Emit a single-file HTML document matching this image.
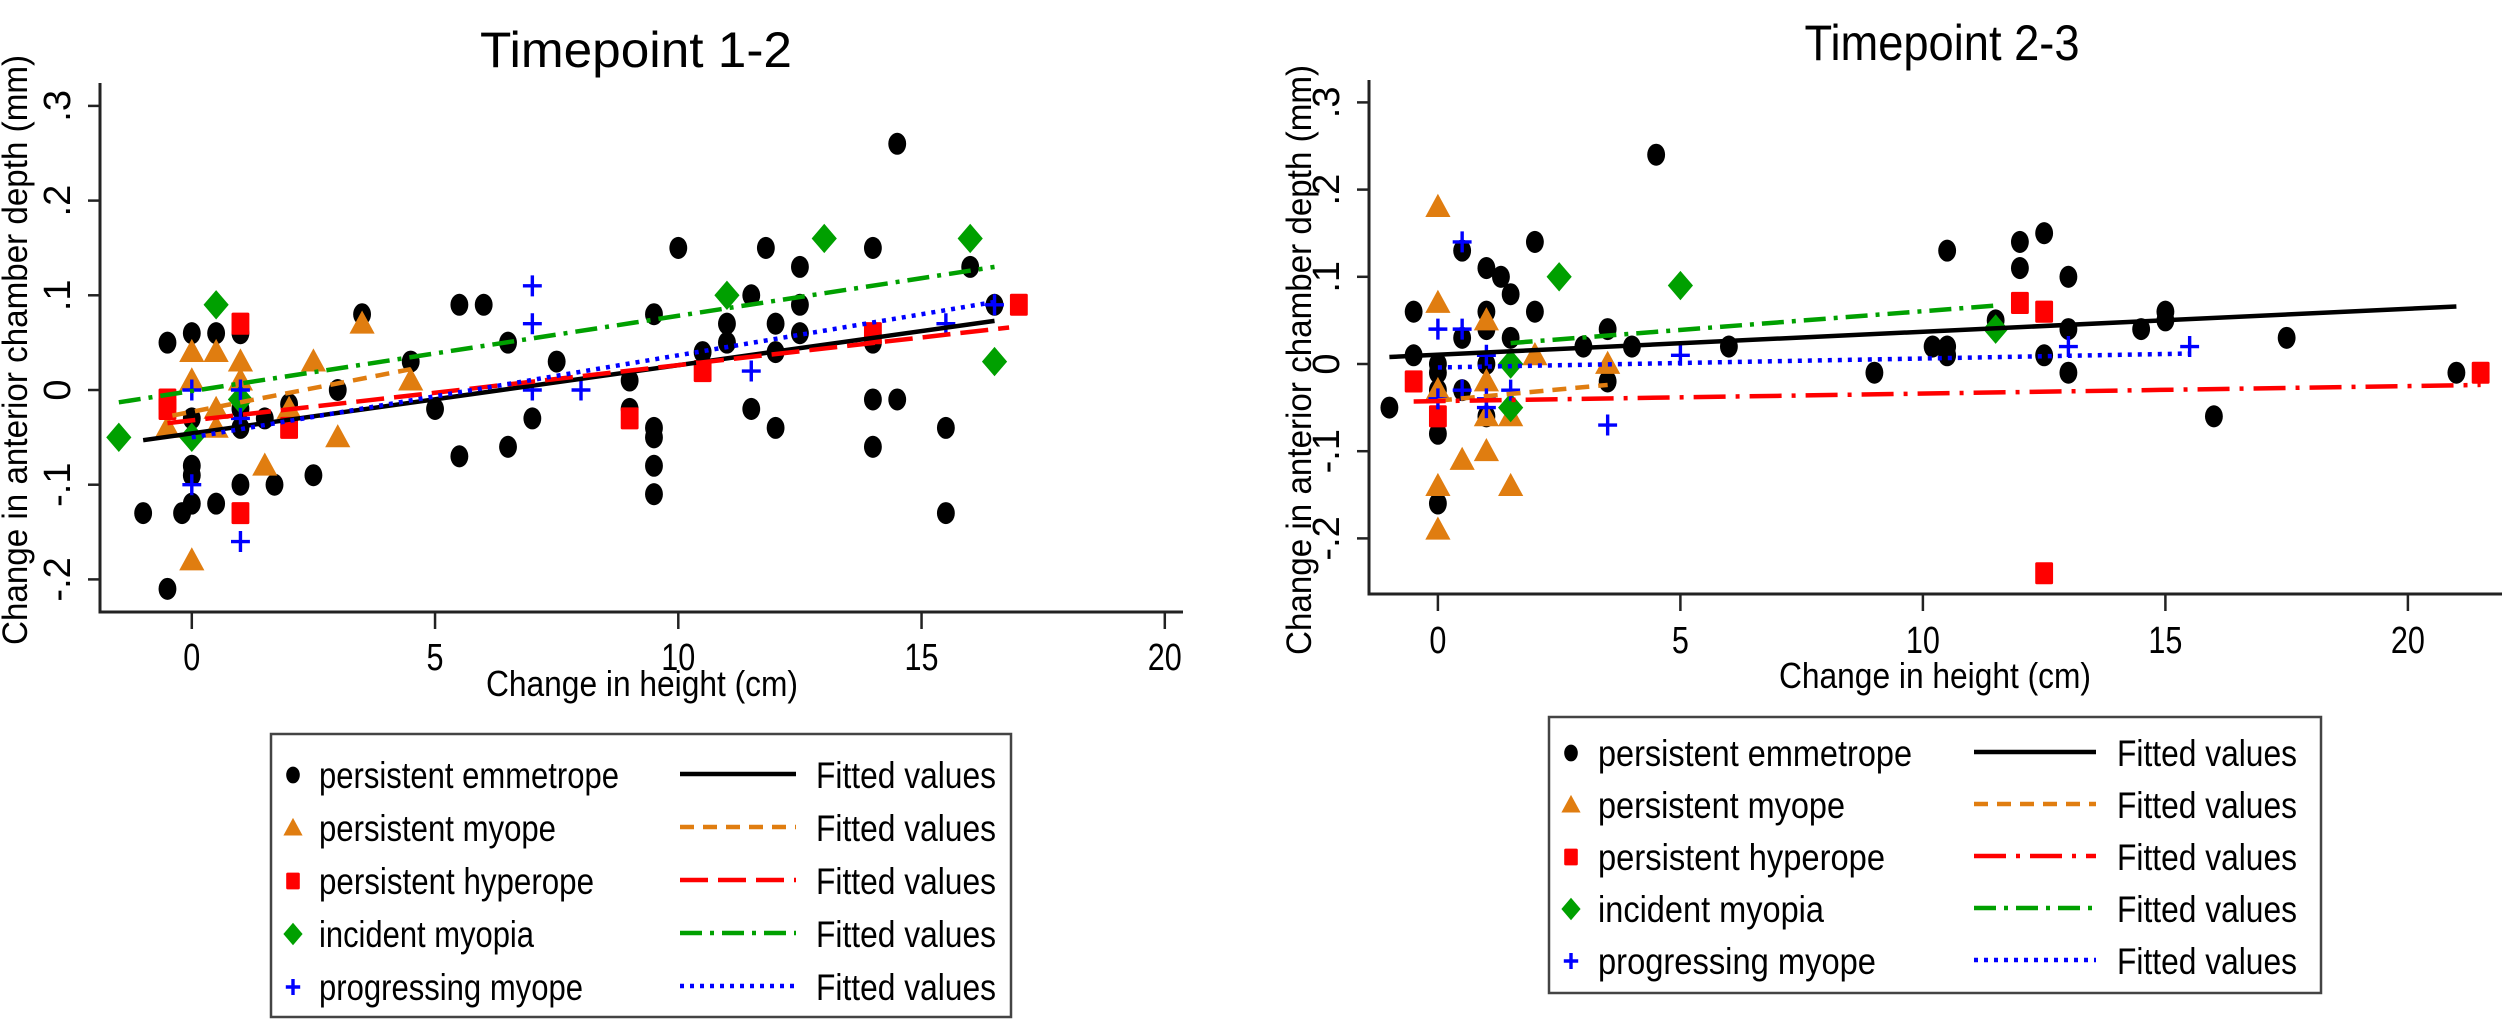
<!DOCTYPE html>
<html><head><meta charset="utf-8"><style>
html,body{margin:0;padding:0;background:#fff;}
svg{display:block;}
text{font-family:"Liberation Sans",Arial,sans-serif;fill:#000;}
</style></head>
<body>
<svg id="fig" width="2508" height="1024" viewBox="0 0 2508 1024" xmlns="http://www.w3.org/2000/svg">
<rect width="2508" height="1024" fill="#fff"/>
<g id="panelL"></g>
<g id="panelR"></g>
</svg>
<script>
// ---------- DATA: Timepoint 1-2 ----------
const xTicks = [0, 5, 10, 15, 20];
const yTicks = [-0.2, -0.1, 0, 0.1, 0.2, 0.3];
const yTickLabels = ["-.2", "-.1", "0", ".1", ".2", ".3"];
const groups = ["persistent emmetrope", "persistent myope", "persistent hyperope", "incident myopia", "progressing myope"];

const L_emmX = [-1,-0.5,-0.5,-0.2,0,0,0,0,0,0.5,0.5,1,1,1,1,1.5,1.7,2,2.5,3,3.5,4.5,5,5.5,6,5.5,6.5,6.5,7,7.5,9,9,9.5,9.5,9.5,9.5,9.5,10,10.5,11,11,11.5,11.5,11.8,12,12,12,12.5,12.5,12.5,14,14,14,14,14.5,14.5,15.5,15.5,16,16.5];
const L_emmY = [-0.13,0.05,-0.21,-0.13,0.06,-0.12,-0.08,-0.09,-0.03,0.06,-0.12,0.06,-0.1,-0.04,-0.02,-0.03,-0.1,-0.015,-0.09,0,0.08,0.03,-0.02,0.09,0.09,-0.07,0.05,-0.06,-0.03,0.03,0.01,-0.02,0.08,-0.04,-0.05,-0.08,-0.11,0.15,0.04,0.07,0.05,0.1,-0.02,0.15,0.07,0.04,-0.04,0.13,0.09,0.06,0.15,-0.01,-0.06,0.05,0.26,-0.01,-0.04,-0.13,0.13,0.09];
const L_myoX = [0,0.5,0,1,1,0.5,-0.5,0.5,1.5,0,2.5,3,3.5,4.5,2];
const L_myoY = [0.04,0.04,0.01,0.03,0.01,-0.02,-0.04,-0.04,-0.08,-0.18,0.03,-0.05,0.07,0.01,-0.02];
const L_hypX = [-0.5,-0.5,1,1,2,9,10.5,14,17];
const L_hypY = [-0.01,-0.02,0.07,-0.13,-0.04,-0.03,0.02,0.06,0.09];
const L_incX = [-1.5,0.5,0,1,11,13,16,16.5];
const L_incY = [-0.05,0.09,-0.05,-0.01,0.1,0.16,0.16,0.03];
const L_proX = [0,1,1,0,1,7,7,7,8,11.5,15.5,16.5];
const L_proY = [0,0,-0.03,-0.1,-0.16,0.11,0.07,0,0,0.02,0.07,0.09];
const L_fitX = [[-1,16.5],[-0.4,4.5],[-0.5,16.8],[-1.5,16.5],[0,16.5]];
const L_fitY = [[-0.053,0.073],[-0.027,0.022],[-0.035,0.066],[-0.013,0.13],[-0.05,0.093]];

// ---------- DATA: Timepoint 2-3 ----------
const R_emmX = [-1,-0.5,-0.5,0,0,0,0,0,0.5,0.5,0.5,1,1,1,1,1,1.3,1.5,1.5,2,2,3,3.5,3.5,4,4.5,6,9,10.2,10.5,10.5,10.5,11.5,12,12,12.5,12.5,13,13,13,14.5,15,15,16,17.5,21];
const R_emmY = [-0.05,0.06,0.01,0,-0.01,-0.03,-0.08,-0.16,0.13,0.03,-0.03,0.11,0.06,0.04,0,-0.06,0.1,0.08,0.03,0.14,0.06,0.02,0.04,-0.02,0.02,0.24,0.02,-0.01,0.02,0.02,0.01,0.13,0.05,0.14,0.11,0.15,0.01,0.1,0.04,-0.01,0.04,0.06,0.05,-0.06,0.03,-0.01];
const R_myoX = [0,0,0,0,0,0.5,1,1,1,1,1.5,1.5,2,3.5];
const R_myoY = [0.18,0.07,-0.03,-0.14,-0.19,-0.11,0.05,-0.02,-0.06,-0.1,-0.06,-0.14,0.01,0];
const R_hypX = [-0.5,0,12,12.5,12.5,21.5];
const R_hypY = [-0.02,-0.06,0.07,0.06,-0.24,-0.01];
const R_incX = [1.5,1.5,2.5,5,11.5];
const R_incY = [0,-0.05,0.1,0.09,0.04];
const R_proX = [0,0.5,0.5,0,0.5,1,1,1,1.5,3.5,5,13,15.5];
const R_proY = [0.04,0.04,0.14,-0.04,-0.03,0.01,-0.04,-0.05,-0.03,-0.07,0.01,0.02,0.02];
const R_fitX = [[-1,21],[0,3.5],[-0.5,21.5],[1.5,11.5],[0,15.5]];
const R_fitY = [[0.008,0.066],[-0.042,-0.024],[-0.043,-0.024],[0.024,0.067],[-0.004,0.012]];

// ---------- STYLE ----------
const NS = "http://www.w3.org/2000/svg";
const colors = ["#000000", "#e07d10", "#ff0000", "#00a000", "#0000ff"];
const keys = ["emmetrope", "myope", "hyperope", "incident-myopia", "progressing-myope"];

function mk(tag, attrs, parent) {
  const e = document.createElementNS(NS, tag);
  for (const k in attrs) e.setAttribute(k, attrs[k]);
  parent.appendChild(e);
  return e;
}

function marker(g, type, cx, cy, scale) {
  const s = scale || 1;
  let e;
  if (type === 0) {
    e = mk("ellipse", {cx: cx, cy: cy, rx: 8.5 * s, ry: 10.5 * s, fill: colors[0]}, g);
  } else if (type === 1) {
    const h = 21 * s, w = 12 * s;
    e = mk("polygon", {points: `${cx},${cy - h * 0.6} ${cx - w},${cy + h * 0.45} ${cx + w},${cy + h * 0.45}`, fill: colors[1]}, g);
  } else if (type === 2) {
    e = mk("rect", {x: cx - 8.5 * s, y: cy - 10.5 * s, width: 17 * s, height: 21 * s, fill: colors[2], rx: 1.5}, g);
  } else if (type === 3) {
    e = mk("polygon", {points: `${cx},${cy - 14 * s} ${cx + 12 * s},${cy} ${cx},${cy + 14 * s} ${cx - 12 * s},${cy}`, fill: colors[3]}, g);
  } else {
    e = mk("path", {d: `M${cx - 9 * s},${cy}H${cx + 9 * s}M${cx},${cy - 10 * s}V${cy + 10 * s}`, stroke: colors[4], "stroke-width": 3.4, fill: "none"}, g);
  }
  return e;
}

function drawPanel(cfg) {
  const g = document.getElementById(cfg.id);
  const xs = v => cfg.x0 + v * cfg.xu;
  const ys = v => cfg.y0 - v * cfg.yu;

  const t = mk("text", {x: cfg.titleX, y: cfg.titleY, "font-size": 50, "text-anchor": "middle", textLength: cfg.titleW, lengthAdjust: "spacingAndGlyphs"}, g);
  t.textContent = cfg.title;
  
  

  const ya = mk("line", {x1: cfg.axL, y1: cfg.axTop, x2: cfg.axL, y2: cfg.axB, stroke: "#222", "stroke-width": 3}, g);
  
  
  const xa = mk("line", {x1: cfg.axL - 1.5, y1: cfg.axB, x2: cfg.axR, y2: cfg.axB, stroke: "#222", "stroke-width": 3}, g);
  
  

  yTicks.forEach((v, i) => {
    const y = ys(v);
    const tk = mk("line", {x1: cfg.axL - 12, y1: y, x2: cfg.axL, y2: y, stroke: "#222", "stroke-width": 2.5}, g);
    
    
    const lb = mk("text", {x: 0, y: 0, "font-size": 38, "text-anchor": "middle", transform: `translate(${cfg.axL - 30},${y}) rotate(-90)`}, g);
    lb.textContent = yTickLabels[i];
    
    
  });
  xTicks.forEach(v => {
    const x = xs(v);
    const tk = mk("line", {x1: x, y1: cfg.axB, x2: x, y2: cfg.axB + 17, stroke: "#222", "stroke-width": 2.5}, g);
    
    
    const lb = mk("text", {x: x, y: cfg.axB + cfg.xtlOff, "font-size": 38, "text-anchor": "middle", textLength: (String(v).length * 17), lengthAdjust: "spacingAndGlyphs"}, g);
    lb.textContent = String(v);
    
    
  });

  const xt = mk("text", {x: cfg.xTitleX, y: cfg.xTitleY, "font-size": 36, "text-anchor": "middle", textLength: 312, lengthAdjust: "spacingAndGlyphs"}, g);
  xt.textContent = "Change in height (cm)";
  
  
  const yt = mk("text", {x: 0, y: 0, "font-size": 35, "text-anchor": "middle", textLength: 590, lengthAdjust: "spacingAndGlyphs", transform: `translate(${cfg.yTitleX},${cfg.yTitleY}) rotate(-90)`}, g);
  yt.textContent = "Change in anterior chamber depth (mm)";
  
  

  cfg.sets.forEach((set, k) => {
    const sg = mk("g", {}, g);
    
    
    set[0].forEach((xv, i) => {
      const m = marker(sg, k, xs(xv), ys(set[1][i]), 1.05);
      
      
    });
  });

  cfg.fitX.forEach((fx, k) => {
    const fy = cfg.fitY[k];
    const ln = mk("line", {x1: xs(fx[0]), y1: ys(fy[0]), x2: xs(fx[1]), y2: ys(fy[1]), stroke: colors[k], "stroke-width": 4.5, "stroke-dasharray": cfg.dashes[k], fill: "none"}, g);
    
    
  });

  const lg = mk("g", {}, g);
  
  
  const box = mk("rect", {x: cfg.lgX, y: cfg.lgY, width: cfg.lgW, height: cfg.lgH, fill: "#fff", stroke: "#444", "stroke-width": 2.5}, lg);
  
  
  groups.forEach((name, k) => {
    const by = cfg.lgRow0 + k * cfg.lgStep;
    const m = marker(lg, k, cfg.lgMarkX, by - 13, 0.8);
    
    
    const tx = mk("text", {x: cfg.lgTextX, y: by, "font-size": 37, textLength: cfg.nameW[k], lengthAdjust: "spacingAndGlyphs"}, lg);
    tx.textContent = name;
    
    
    const ln = mk("line", {x1: cfg.lgLineX0, y1: by - 14, x2: cfg.lgLineX1, y2: by - 14, stroke: colors[k], "stroke-width": 4.5, "stroke-dasharray": cfg.dashes[k]}, lg);
    
    
    const fv = mk("text", {x: cfg.lgFitX, y: by, "font-size": 37, textLength: 180, lengthAdjust: "spacingAndGlyphs"}, lg);
    fv.textContent = "Fitted values";
    
    
  });
}

drawPanel({
  id: "panelL", title: "Timepoint 1-2", titleX: 636, titleY: 67, titleW: 312,
  x0: 191.8, xu: 48.65, y0: 390, yu: 947,
  axL: 100, axR: 1183, axTop: 83, axB: 612, xtlOff: 58,
  xTitleX: 642, xTitleY: 696, yTitleX: 27, yTitleY: 350,
  sets: [[L_emmX, L_emmY], [L_myoX, L_myoY], [L_hypX, L_hypY], [L_incX, L_incY], [L_proX, L_proY]],
  fitX: L_fitX, fitY: L_fitY,
  dashes: ["none", "14 9", "28 10", "22 8 4 8", "4 6"],
  lgX: 271, lgY: 734, lgW: 740, lgH: 283, lgRow0: 788, lgStep: 53, lgMarkX: 293, lgTextX: 319,
  nameW: [300, 237, 275, 215, 264], lgLineX0: 680, lgLineX1: 796, lgFitX: 816
});

drawPanel({
  id: "panelR", title: "Timepoint 2-3", titleX: 1942, titleY: 60, titleW: 275,
  x0: 1437.9, xu: 48.5, y0: 364, yu: 872,
  axL: 1369, axR: 2502, axTop: 80, axB: 594, xtlOff: 59,
  xTitleX: 1935, xTitleY: 688, yTitleX: 1311, yTitleY: 360,
  sets: [[R_emmX, R_emmY], [R_myoX, R_myoY], [R_hypX, R_hypY], [R_incX, R_incY], [R_proX, R_proY]],
  fitX: R_fitX, fitY: R_fitY,
  dashes: ["none", "14 9", "32 10 4 10", "22 8 4 8", "4 6"],
  lgX: 1549, lgY: 717, lgW: 772, lgH: 276, lgRow0: 766, lgStep: 52, lgMarkX: 1571, lgTextX: 1598,
  nameW: [314, 247, 287, 226, 278], lgLineX0: 1974, lgLineX1: 2096, lgFitX: 2117
});
</script>
</body></html>
